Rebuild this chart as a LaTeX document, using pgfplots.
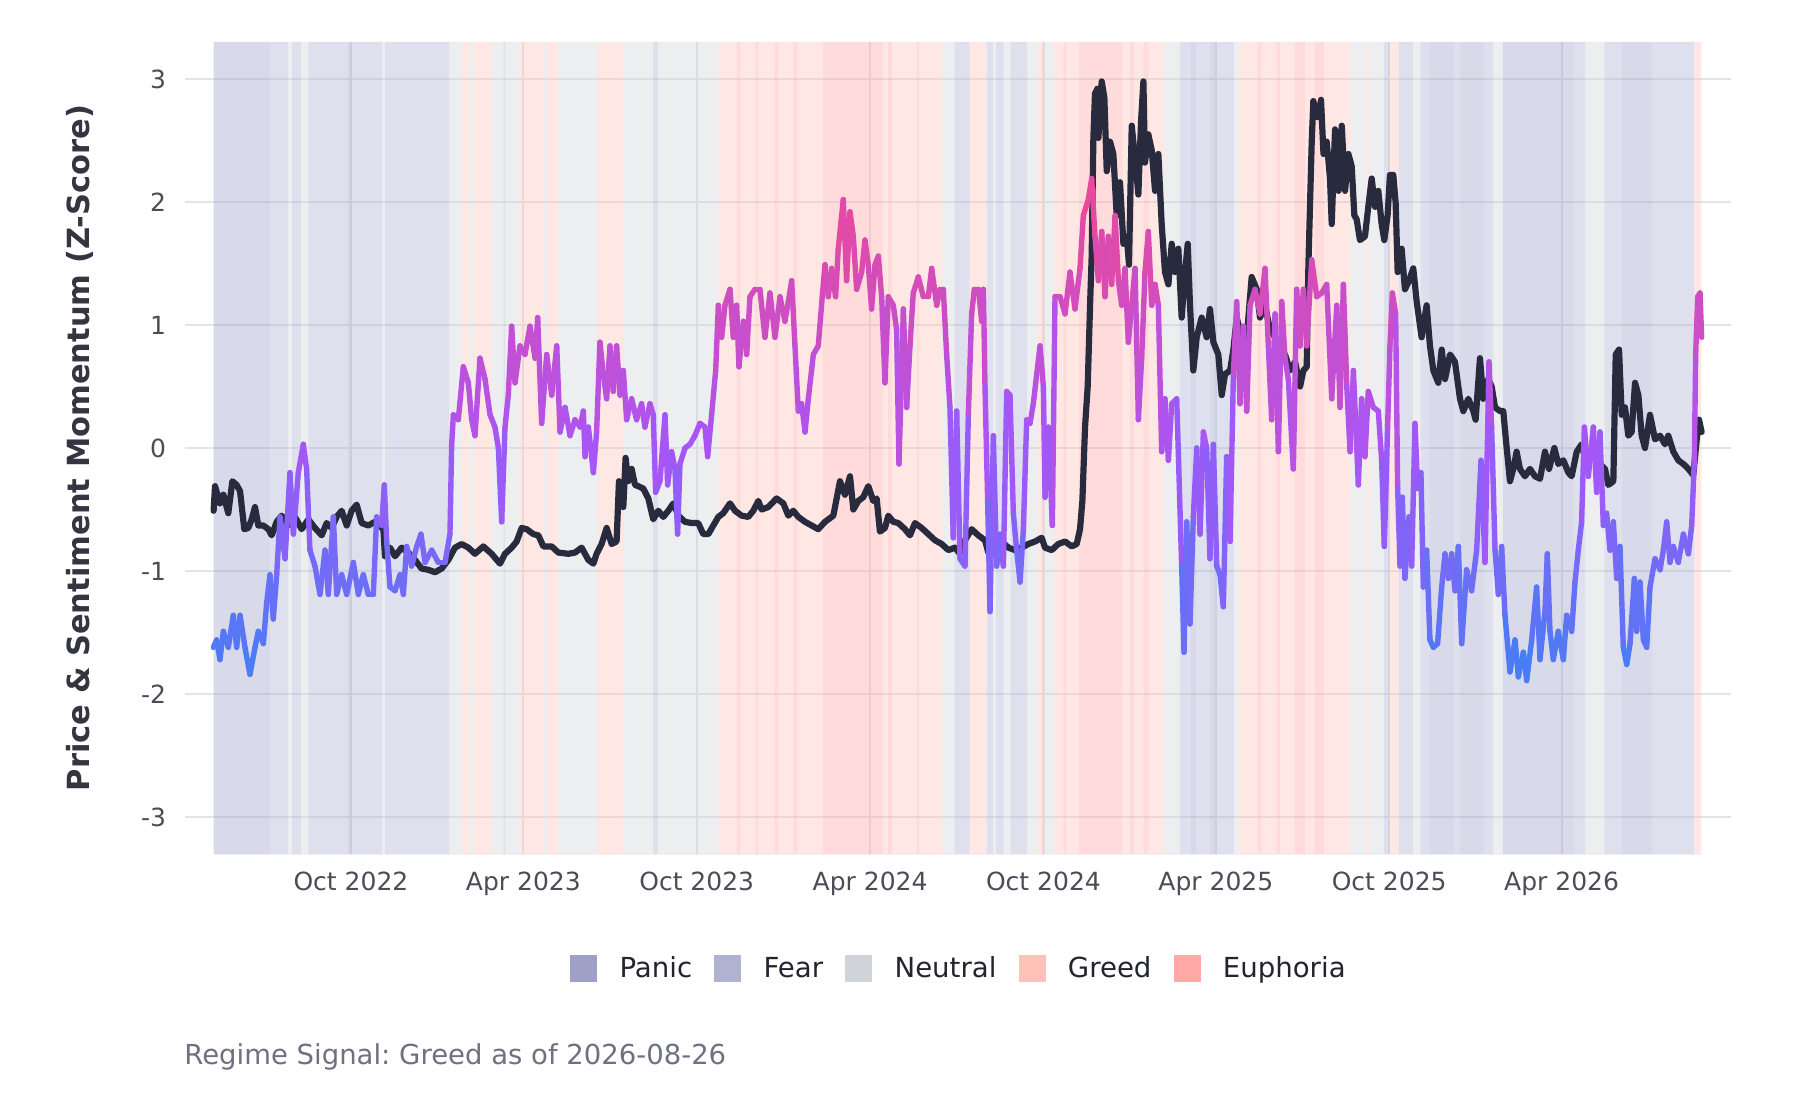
\documentclass[border=0pt]{standalone}
\usepackage{pgfplots}
\pgfplotsset{compat=1.18}
\usepackage{pgfplotstable}
\usepackage{fontspec}
\setmainfont{DejaVu Sans}
\frenchspacing
\definecolor{panicc}{RGB}{158,160,200}
\definecolor{fearc}{RGB}{176,178,210}
\definecolor{neutralc}{RGB}{208,212,216}
\definecolor{greedc}{RGB}{255,194,184}
\definecolor{euphc}{RGB}{255,168,165}
\definecolor{gridc}{RGB}{226,228,234}
\definecolor{pricec}{RGB}{40,42,62}
\definecolor{tickc}{RGB}{75,76,88}
\definecolor{labelc}{RGB}{52,53,64}
\definecolor{legc}{RGB}{35,36,46}
\definecolor{footc}{RGB}{110,114,128}
\pgfplotsset{colormap={sent}{rgb255=(59,130,246) rgb255=(168,85,247) rgb255=(236,72,153)}}

% regime segments: start day (days since 2022-01-01), regime code 0 Panic,1 Fear,2 Neutral,3 Greed,4 Euphoria
\pgfplotstableread{
x r
128 0
188 1
207 2
211 1
220 2
228 1
270 0
273 1
306 2
309 1
377 2
390 3
398 2
403 3
421 2
434 1
436 2
451 3
477 2
480 3
492 2
534 3
561 2
592 1
597 2
661 3
680 4
684 3
700 4
703 3
720 4
724 3
740 4
744 3
771 4
835 3
840 4
844 3
870 4
873 3
897 2
910 1
926 3
944 1
950.5 2
954 1
962 2
969 1
987 2
998 3
1005 2
1015 3
1025 4
1028 3
1041 4
1087 3
1095 4
1100 3
1110 4
1115 3
1131 2
1148 1
1160 0
1165 1
1180 0
1185 1
1205 2
1210 3
1230 4
1234 3
1250 4
1254 3
1269 4
1280 3
1290 4
1300 3
1328 2
1345 3
1348 2
1363 1
1369 3
1379 1
1394 2
1402 1
1412 0
1438 1
1443 0
1468 1
1479 2
1489 0
1563 1
1576 2
1596 1
1614 0
1647 1
1691 3
1698.6 3
}\bands

\pgfplotstableread{
x y
128 -0.51
129.5 -0.31
134.7 -0.45
138.3 -0.38
143.5 -0.53
147.8 -0.27
152.3 -0.30
155.9 -0.35
160.4 -0.66
164.6 -0.65
168.2 -0.58
171.7 -0.48
175.2 -0.63
180.5 -0.63
185.8 -0.66
189.3 -0.71
194.6 -0.60
199.8 -0.55
206.9 -0.63
213.9 -0.56
221.0 -0.66
228.0 -0.58
235.0 -0.65
242.1 -0.71
247.3 -0.61
252.6 -0.65
257.9 -0.56
263.2 -0.51
268.5 -0.63
273.7 -0.51
279.0 -0.46
284.3 -0.61
291.3 -0.63
298.4 -0.60
307.2 -0.66
308.9 -0.88
314.2 -0.81
319.5 -0.88
326.5 -0.81
333.6 -0.85
340.6 -0.91
347.6 -0.98
354.7 -0.99
361.7 -1.01
368.7 -0.98
375.8 -0.91
382.8 -0.81
389.9 -0.78
396.9 -0.81
403.9 -0.86
412.7 -0.80
421.5 -0.86
430.3 -0.94
435.6 -0.86
442.6 -0.81
447.9 -0.76
453.2 -0.65
458.5 -0.66
465.5 -0.70
470.8 -0.71
476.1 -0.80
484.9 -0.80
491.9 -0.85
502.5 -0.86
509.5 -0.85
516.5 -0.81
523.6 -0.91
528.9 -0.94
532.3 -0.86
537.6 -0.78
542.9 -0.65
548.2 -0.78
553.4 -0.76
555.9 -0.27
560.5 -0.48
562.9 -0.08
565.7 -0.27
569.3 -0.17
572.8 -0.30
576.3 -0.31
581.6 -0.33
586.9 -0.41
592.1 -0.58
597.4 -0.51
602.7 -0.56
608.0 -0.51
613.3 -0.45
618.5 -0.55
625.6 -0.60
632.6 -0.61
639.6 -0.61
644.9 -0.70
650.2 -0.70
655.5 -0.63
660.8 -0.56
666.0 -0.53
673.1 -0.45
678.4 -0.51
685.4 -0.55
692.4 -0.56
697.7 -0.51
703.0 -0.43
706.5 -0.50
713.5 -0.48
722.3 -0.41
729.4 -0.45
734.7 -0.55
739.9 -0.51
745.2 -0.56
752.3 -0.60
759.3 -0.63
766.3 -0.66
773.4 -0.60
782.2 -0.55
789.2 -0.27
794.5 -0.38
799.8 -0.23
803.3 -0.50
808.6 -0.43
813.8 -0.40
819.1 -0.31
824.4 -0.43
827.9 -0.41
831.4 -0.68
836.7 -0.65
840.2 -0.55
845.5 -0.60
850.8 -0.61
857.8 -0.66
863.1 -0.71
868.4 -0.61
875.4 -0.65
882.5 -0.70
889.5 -0.75
896.5 -0.78
903.6 -0.83
910.6 -0.81
915.9 -0.86
921.2 -0.75
928.2 -0.66
935.3 -0.71
942.3 -0.75
945.8 -0.85
952.9 -0.76
959.9 -0.76
967.0 -0.81
974.0 -0.83
981.0 -0.81
988.1 -0.78
995.1 -0.76
1002.1 -0.73
1005.7 -0.81
1012.7 -0.83
1019.7 -0.78
1026.8 -0.76
1033.8 -0.80
1039.1 -0.78
1042.6 -0.66
1045.1 -0.43
1047.9 0.17
1050.7 0.50
1053.2 1.16
1054.9 1.56
1056.7 2.52
1058.4 2.88
1060.9 2.92
1062.0 2.52
1065.5 2.98
1068.3 2.85
1070.8 2.25
1074.3 2.49
1077.8 2.39
1081.3 1.89
1084.8 2.16
1088.4 1.66
1091.9 1.72
1094.3 1.49
1097.2 2.62
1100.7 2.35
1104.2 2.06
1107.0 2.65
1109.5 2.98
1111.2 2.32
1114.7 2.55
1118.3 2.42
1121.8 2.09
1125.3 2.39
1128.8 1.82
1132.3 1.43
1135.9 1.33
1139.4 1.66
1142.9 1.43
1146.4 1.62
1149.9 1.06
1153.5 1.43
1156.3 1.66
1158.7 1.16
1162.2 0.63
1165.8 0.90
1171.0 1.06
1176.3 0.90
1179.8 1.13
1183.4 0.86
1188.6 0.76
1192.2 0.43
1195.7 0.60
1201.0 0.63
1204.5 0.80
1208.0 1.06
1213.3 0.90
1218.6 0.90
1223.8 1.39
1229.1 1.29
1232.6 1.06
1237.9 1.16
1243.2 0.96
1248.5 0.90
1253.7 0.76
1259.0 0.76
1264.3 0.63
1269.6 0.70
1274.9 0.50
1278.4 0.63
1281.9 0.66
1283.7 1.49
1287.2 2.49
1288.9 2.82
1292.5 2.69
1294.2 2.69
1297.0 2.83
1299.6 2.39
1303.0 2.49
1306.5 2.19
1308.3 1.82
1311.8 2.59
1315.4 2.09
1318.9 2.62
1322.4 2.09
1325.9 2.39
1329.4 2.29
1332.2 1.89
1334.6 1.86
1338.1 1.69
1343.4 1.72
1346.9 1.96
1350.5 2.19
1354.0 1.96
1357.5 2.09
1361.0 1.82
1363.8 1.69
1367.3 1.89
1369.8 2.22
1373.3 2.22
1375.8 1.99
1377.9 1.43
1382.1 1.62
1385.6 1.29
1389.9 1.36
1394.4 1.46
1398.0 1.19
1403.2 0.90
1408.5 1.16
1412.0 0.83
1415.6 0.63
1420.8 0.53
1424.4 0.80
1427.9 0.56
1433.2 0.76
1438.4 0.70
1443.7 0.40
1447.2 0.30
1452.5 0.40
1457.8 0.30
1460.2 0.23
1464.8 0.73
1468.3 0.40
1473.6 0.56
1477.1 0.50
1480.7 0.33
1485.9 0.30
1489.4 0.30
1493.0 0
1496.5 -0.27
1500.0 -0.17
1503.5 -0.03
1507.0 -0.17
1512.3 -0.23
1517.6 -0.17
1522.9 -0.23
1528.2 -0.25
1533.4 -0.03
1537.7 -0.17
1543.3 0
1547.5 -0.13
1552.8 -0.10
1558.1 -0.20
1561.6 -0.23
1566.9 -0.03
1572.1 0.03
1577.4 -0.13
1584.5 -0.03
1591.5 -0.13
1596.8 -0.17
1600.3 -0.30
1605.6 -0.27
1608.1 0.76
1611.6 0.80
1614.4 0.27
1617.9 0.33
1621.4 0.10
1624.9 0.13
1628.5 0.53
1632.0 0.43
1635.5 0.10
1639.0 0
1644.3 0.27
1649.6 0.07
1654.9 0.10
1660.1 0.03
1663.6 0.10
1668.9 -0.03
1674.2 -0.10
1679.5 -0.13
1684.8 -0.17
1690.0 -0.22
1693.6 0.07
1696.0 0.23
1698.8 0.13
}\price

\pgfplotstableread{
x y
127.7 -1.62
131.2 -1.56
134.7 -1.72
138.3 -1.49
143.5 -1.62
148.8 -1.36
152.3 -1.62
155.9 -1.36
161.1 -1.62
166.4 -1.84
171.7 -1.62
175.2 -1.49
180.5 -1.59
184.0 -1.26
187.5 -1.03
191.0 -1.39
194.6 -1.03
198.1 -0.56
203.4 -0.90
208.6 -0.20
212.2 -0.70
217.4 -0.20
222.7 0.03
226.2 -0.17
229.7 -0.83
235.0 -0.96
240.3 -1.19
245.6 -0.83
249.1 -1.19
254.4 -0.56
257.9 -1.19
263.2 -1.03
268.5 -1.19
275.5 -0.93
280.8 -1.19
286.0 -1.03
291.3 -1.19
296.6 -1.19
300.1 -0.56
305.4 -0.63
308.2 -0.30
310.7 -0.76
314.2 -1.13
319.5 -1.16
324.8 -1.03
328.3 -1.19
331.8 -0.80
337.1 -0.96
342.4 -0.80
346.9 -0.70
351.2 -0.93
358.2 -0.83
365.2 -0.93
372.3 -0.93
377.5 -0.70
379.3 0.03
381.1 0.27
386.3 0.23
391.6 0.66
396.9 0.53
400.4 0.23
403.9 0.10
409.2 0.73
414.5 0.56
419.8 0.27
425.0 0.17
428.6 0
432.1 -0.60
435.6 0.17
439.1 0.43
442.6 0.99
446.2 0.53
451.4 0.83
456.7 0.76
462.0 0.99
467.3 0.73
470.1 1.06
474.3 0.20
479.6 0.76
484.9 0.43
490.2 0.83
493.7 0.13
499.0 0.33
504.2 0.10
509.5 0.23
514.8 0.17
518.3 0.30
520.1 -0.07
523.6 0.17
528.9 -0.20
532.3 0.13
535.8 0.86
539.4 0.60
542.9 0.40
546.4 0.83
549.9 0.46
553.4 0.83
557.0 0.43
560.5 0.63
564.0 0.23
569.3 0.40
574.5 0.23
579.8 0.36
583.3 0.17
588.6 0.36
592.1 0.27
594.6 -0.36
599.2 -0.27
604.5 0.27
607.3 -0.30
611.5 -0.03
615.0 -0.17
617.8 -0.70
620.3 -0.13
625.6 0
630.8 0.03
636.1 0.10
641.4 0.20
646.7 0.17
649.5 -0.07
653.7 0.27
658.0 0.63
660.8 1.16
664.3 0.90
667.8 1.16
673.1 1.29
676.6 0.90
680.1 1.16
682.6 0.66
687.2 1.03
690.7 0.76
694.2 1.23
699.5 1.29
704.7 1.29
710.0 0.90
715.3 1.26
720.6 0.90
725.9 1.23
731.1 1.03
734.7 1.19
738.2 1.36
741.7 0.83
745.2 0.30
748.7 0.36
752.3 0.13
755.8 0.40
761.1 0.76
766.3 0.83
770.5 1.23
773.4 1.49
776.9 1.23
780.4 1.46
784.6 1.23
787.4 1.62
792.7 2.02
796.2 1.36
799.8 1.92
803.3 1.72
806.8 1.29
812.1 1.43
815.6 1.69
819.1 1.49
822.6 1.13
826.2 1.49
829.7 1.56
833.2 1.23
836.7 0.53
840.2 1.23
845.5 1.16
849.0 0.96
851.5 -0.13
856.1 1.13
859.6 0.33
863.1 0.83
866.6 1.26
871.9 1.39
877.2 1.23
882.5 1.23
886.0 1.46
891.3 1.16
894.8 1.29
898.3 1.29
901.8 0.76
905.3 0.33
908.8 -0.73
912.4 0.30
915.9 -0.90
921.2 -0.96
924.7 0.27
928.2 1.09
931.0 1.29
935.3 1.29
938.8 1.03
940.6 1.29
942.3 0.50
945.1 -0.43
947.6 -1.33
951.1 0.10
954.6 -0.96
958.2 -0.70
961.7 -0.96
965.2 0.46
968.7 0.43
972.2 -0.53
975.7 -0.83
979.3 -1.09
982.8 -0.66
986.3 0.23
989.8 0.20
993.3 0.36
996.9 0.60
1000.4 0.83
1003.9 0.50
1005.7 -0.40
1009.2 0.17
1013.4 -0.63
1016.2 1.23
1021.5 1.23
1026.8 1.09
1032.0 1.43
1037.3 1.13
1042.6 1.46
1046.1 1.89
1051.4 2.02
1054.9 2.19
1058.4 1.72
1062.0 1.36
1065.5 1.76
1069.0 1.23
1072.5 1.72
1076.0 1.33
1079.6 1.89
1083.1 1.36
1086.6 1.16
1090.1 1.46
1093.6 0.86
1097.2 1.16
1100.7 1.46
1104.2 0.23
1107.7 0.73
1111.2 1.43
1114.7 1.76
1118.3 1.16
1121.8 1.33
1125.3 1.16
1128.8 -0.03
1132.3 0.40
1135.9 -0.10
1139.4 0.36
1144.7 0.40
1149.9 -0.96
1152.4 -1.66
1155.2 -0.60
1158.7 -1.43
1162.2 -0.56
1165.8 0
1169.3 -0.70
1172.8 0.13
1176.3 0
1179.8 -0.90
1183.4 0.03
1186.9 -0.96
1190.4 -1.03
1193.9 -1.29
1197.4 -0.07
1201.0 -0.76
1204.5 0.60
1208.0 1.19
1211.5 0.36
1215.0 0.99
1218.6 0.30
1222.1 1.16
1227.4 1.29
1232.6 1.09
1237.9 1.46
1241.4 0.83
1244.9 0.23
1248.5 1.09
1252.0 -0.03
1255.5 1.19
1259.0 0.73
1262.5 0.56
1267.8 -0.17
1271.3 1.29
1274.9 0.83
1278.4 1.29
1281.9 0.83
1287.2 1.53
1292.5 1.23
1297.7 1.26
1303.0 1.33
1308.3 0.40
1313.6 1.16
1317.1 0.33
1320.6 1.33
1324.2 0.50
1327.7 -0.03
1331.2 0.63
1336.4 -0.30
1339.9 0.40
1343.4 -0.07
1346.9 0.46
1352.2 0.33
1357.5 0.30
1361.0 -0.10
1363.8 -0.80
1367.3 0.17
1369.8 0.83
1372.3 1.26
1375.8 1.09
1377.9 -0.33
1380.4 -0.96
1382.8 -0.40
1385.6 -1.06
1389.9 -0.56
1392.7 -0.96
1396.2 0.20
1399.0 -0.33
1402.5 -0.20
1405.0 -1.13
1408.5 -0.83
1412.0 -1.56
1415.6 -1.62
1420.1 -1.59
1424.4 -1.13
1427.9 -0.86
1431.4 -1.06
1434.9 -0.86
1438.4 -1.16
1442.0 -0.80
1445.5 -1.59
1450.7 -0.99
1456.0 -1.16
1461.3 -0.83
1465.9 -0.10
1470.1 -0.93
1474.3 0.70
1477.1 0.17
1480.7 -0.83
1484.2 -1.19
1487.7 -0.80
1491.2 -1.36
1496.5 -1.82
1501.8 -1.56
1505.3 -1.86
1510.6 -1.66
1514.1 -1.89
1519.4 -1.56
1524.6 -1.13
1528.2 -1.72
1533.4 -1.33
1535.9 -0.86
1538.7 -1.49
1542.2 -1.72
1547.5 -1.49
1552.8 -1.72
1556.3 -1.36
1561.6 -1.49
1565.1 -1.09
1568.6 -0.83
1572.1 -0.60
1575.0 0.17
1579.2 -0.23
1584.5 0.17
1588.0 -0.36
1591.5 0.13
1595.0 -0.63
1598.5 -0.53
1602.1 -0.83
1605.6 -0.60
1609.1 -1.06
1612.6 -0.80
1616.1 -1.62
1619.7 -1.76
1623.2 -1.59
1627.8 -1.06
1630.2 -1.49
1633.7 -1.09
1637.3 -1.56
1640.8 -1.62
1644.3 -1.13
1649.6 -0.90
1654.9 -0.99
1658.4 -0.83
1661.9 -0.60
1665.4 -0.93
1668.9 -0.80
1674.2 -0.93
1679.5 -0.70
1684.8 -0.86
1688.3 -0.63
1691.1 -0.10
1692.5 0.76
1694.6 1.23
1697.1 1.26
1698.8 0.90
}\sent

\pgfplotsset{
  geom/.style={at={(92.5pt,123pt)}, anchor=south west, width=773pt, height=406pt,
    scale only axis, xmin=97.8, xmax=1729.8},
}

\begin{document}
\begin{tikzpicture}
\useasboundingbox (0,0) rectangle (900pt,550pt);
% grid, ticks, labels, legend
\begin{axis}[geom, ymin=-3.3, ymax=3.3,
  axis line style={draw=none}, major tick length=0pt,
  xtick={273,455,638,821,1004,1186,1369,1551},
  xticklabels={Oct 2022,Apr 2023,Oct 2023,Apr 2024,Oct 2024,Apr 2025,Oct 2025,Apr 2026},
  ytick={-3,-2,-1,0,1,2,3},
  yticklabels={-3,-2,-1,0,1,2,3},
  grid=major, major grid style={draw=gridc, line width=1.1pt},
  tick label style={font=\fontsize{12.5}{15}\selectfont, text=tickc, inner sep=0pt},
  xticklabel style={anchor=base, yshift=-18pt},
  yticklabel style={anchor=east, xshift=-9.25pt},
  ylabel={Price \& Sentiment Momentum (Z-Score)},
  ylabel style={font=\bfseries\fontsize{15.25}{18}\selectfont, text=labelc,
    at={(axis description cs:-0.0679,0.5)}, anchor=center},
  legend columns=5,
  legend image code/.code={\fill[#1] (0pt,-6.75pt) rectangle (13.5pt,6.75pt);},
  legend style={at={(0.5,-0.1416)}, anchor=center, draw=none, fill=none,
    font=\fontsize{13.8}{16}\selectfont, text=legc, nodes={inner sep=0pt},
    /tikz/every odd column/.append style={column sep=11.1pt},
    /tikz/every even column/.append style={column sep=11.1pt}},
]
\addlegendimage{fill=panicc, draw=none}\addlegendentry{Panic}
\addlegendimage{fill=fearc, draw=none}\addlegendentry{Fear}
\addlegendimage{fill=neutralc, draw=none}\addlegendentry{Neutral}
\addlegendimage{fill=greedc, draw=none}\addlegendentry{Greed}
\addlegendimage{fill=euphc, draw=none}\addlegendentry{Euphoria}
\end{axis}
% regime bands
\begin{axis}[geom, ymin=0, ymax=1, hide axis]
\addplot[ybar interval, fill=panicc, fill opacity=0.4, draw=none] table[x=x, y expr={ifthenelse(\thisrow{r}==0,1,0)}] {\bands};
\addplot[ybar interval, fill=fearc, fill opacity=0.4, draw=none] table[x=x, y expr={ifthenelse(\thisrow{r}==1,1,0)}] {\bands};
\addplot[ybar interval, fill=neutralc, fill opacity=0.4, draw=none] table[x=x, y expr={ifthenelse(\thisrow{r}==2,1,0)}] {\bands};
\addplot[ybar interval, fill=greedc, fill opacity=0.4, draw=none] table[x=x, y expr={ifthenelse(\thisrow{r}==3,1,0)}] {\bands};
\addplot[ybar interval, fill=euphc, fill opacity=0.4, draw=none] table[x=x, y expr={ifthenelse(\thisrow{r}==4,1,0)}] {\bands};
\end{axis}
% lines
\begin{axis}[geom, ymin=-3.3, ymax=3.3, hide axis,
  colormap name=sent, point meta min=-2, point meta max=2]
\addplot[pricec, line width=3.1pt, line join=round, line cap=round] table[x=x, y=y] {\price};
\addplot[mesh, point meta=y, line width=2.7pt, line cap=round] table[x=x, y=y] {\sent};
\end{axis}
\node[anchor=west, inner sep=0pt, font=\fontsize{13.75}{16}\selectfont, text=footc] at (92pt,21.5pt) {Regime Signal: Greed as of 2026-08-26};
\end{tikzpicture}
\end{document}
